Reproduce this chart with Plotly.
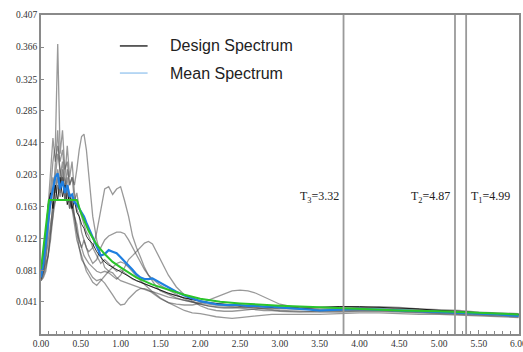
import plotly.graph_objects as go

# Period grid (s) shared by the record spectra and the mean spectrum
periods = [0, 0.03, 0.06, 0.09, 0.12, 0.15, 0.18, 0.21, 0.24, 0.27, 0.30, 0.33, 0.36, 0.39, 0.42, 0.45,
           0.48, 0.51, 0.54, 0.57, 0.60,
           0.65, 0.70, 0.75, 0.80, 0.85, 0.90, 0.95, 1.00, 1.05, 1.10, 1.15, 1.20, 1.25, 1.30, 1.35, 1.40,
           1.45, 1.50,
           1.6, 1.7, 1.8, 1.9, 2.0, 2.1, 2.2, 2.3, 2.4, 2.5, 2.6, 2.7, 2.8, 2.9, 3.0,
           3.25, 3.5, 3.75, 4.0, 4.25, 4.5, 4.75, 5.0, 5.25, 5.5, 5.75, 6.0]

record_a = [0.072, 0.085, 0.11, 0.15, 0.19, 0.22, 0.24, 0.37, 0.23, 0.26, 0.21, 0.22, 0.19, 0.20, 0.17, 0.18,
            0.16, 0.15, 0.14, 0.13, 0.125,
            0.11, 0.10, 0.09, 0.095, 0.09, 0.085, 0.08, 0.082, 0.078, 0.074, 0.07, 0.068, 0.066, 0.064, 0.062, 0.06,
            0.058, 0.056,
            0.052, 0.049, 0.046, 0.044, 0.042, 0.040, 0.039, 0.038, 0.037, 0.036, 0.036, 0.035, 0.035, 0.034, 0.034,
            0.033, 0.034, 0.035, 0.034, 0.033, 0.032, 0.031, 0.030, 0.028, 0.027, 0.026, 0.025]
record_b = [0.07, 0.08, 0.095, 0.12, 0.14, 0.16, 0.17, 0.19, 0.175, 0.2, 0.185, 0.21, 0.19, 0.2, 0.19, 0.21,
            0.235, 0.252, 0.255, 0.235, 0.2,
            0.15, 0.12, 0.1, 0.085, 0.08, 0.078, 0.072, 0.068, 0.066, 0.064, 0.062, 0.06, 0.058, 0.056, 0.055, 0.054,
            0.052, 0.05,
            0.047, 0.045, 0.043, 0.041, 0.04, 0.038, 0.037, 0.036, 0.035, 0.035, 0.034, 0.034, 0.033, 0.033, 0.032,
            0.032, 0.033, 0.033, 0.032, 0.031, 0.030, 0.029, 0.028, 0.027, 0.026, 0.025, 0.024]
record_c = [0.068, 0.075, 0.085, 0.1, 0.13, 0.15, 0.17, 0.2, 0.18, 0.21, 0.17, 0.19, 0.16, 0.17, 0.15, 0.13,
            0.12, 0.11, 0.12, 0.11, 0.105,
            0.11, 0.13, 0.16, 0.185, 0.188, 0.178, 0.185, 0.188, 0.17, 0.15, 0.125, 0.11, 0.098, 0.085, 0.075, 0.068,
            0.06, 0.055,
            0.05, 0.046, 0.043, 0.04, 0.038, 0.036, 0.034, 0.033, 0.033, 0.034, 0.034, 0.033, 0.032, 0.031, 0.03,
            0.029, 0.028, 0.028, 0.029, 0.029, 0.028, 0.027, 0.026, 0.025, 0.024, 0.023, 0.022]
record_d = [0.07, 0.078, 0.09, 0.1, 0.12, 0.15, 0.2, 0.23, 0.21, 0.19, 0.2, 0.18, 0.17, 0.16, 0.15, 0.14,
            0.12, 0.11, 0.1, 0.095, 0.09,
            0.085, 0.08, 0.078, 0.08, 0.078, 0.074, 0.07, 0.075, 0.085, 0.095, 0.1, 0.105, 0.11, 0.116, 0.118, 0.115,
            0.105, 0.095,
            0.075, 0.06, 0.05, 0.042, 0.036, 0.032, 0.03, 0.029, 0.029, 0.03, 0.031, 0.032, 0.033, 0.033, 0.033,
            0.032, 0.031, 0.032, 0.034, 0.035, 0.034, 0.032, 0.031, 0.03, 0.028, 0.027, 0.026]
record_e = [0.072, 0.09, 0.12, 0.16, 0.2, 0.25, 0.22, 0.24, 0.22, 0.235, 0.2, 0.24, 0.2, 0.22, 0.18, 0.16,
            0.15, 0.13, 0.12, 0.11, 0.1,
            0.09, 0.095, 0.11, 0.12, 0.125, 0.128, 0.13, 0.13, 0.128, 0.12, 0.11, 0.1, 0.09, 0.082, 0.075, 0.07,
            0.066, 0.062,
            0.056, 0.05, 0.045, 0.041, 0.038, 0.036, 0.035, 0.034, 0.034, 0.033, 0.032, 0.031, 0.03, 0.03, 0.029,
            0.028, 0.029, 0.03, 0.031, 0.031, 0.03, 0.029, 0.028, 0.027, 0.026, 0.025, 0.024]
record_f = [0.068, 0.072, 0.08, 0.1, 0.13, 0.17, 0.22, 0.26, 0.2, 0.22, 0.18, 0.2, 0.17, 0.16, 0.14, 0.12,
            0.11, 0.095, 0.09, 0.085, 0.08,
            0.072, 0.068, 0.07, 0.065, 0.058, 0.05, 0.042, 0.037, 0.038, 0.045, 0.05, 0.055, 0.058, 0.058, 0.056,
            0.052, 0.048, 0.045,
            0.04, 0.038, 0.037, 0.037, 0.039, 0.043, 0.048, 0.052, 0.055, 0.056, 0.055, 0.052, 0.047, 0.042, 0.038,
            0.033, 0.03, 0.029, 0.03, 0.03, 0.029, 0.028, 0.027, 0.026, 0.025, 0.024, 0.023]
record_g = [0.07, 0.08, 0.1, 0.13, 0.17, 0.2, 0.18, 0.21, 0.19, 0.2, 0.17, 0.18, 0.16, 0.175, 0.15, 0.13,
            0.11, 0.1, 0.09, 0.08, 0.075,
            0.066, 0.062, 0.068, 0.075, 0.08, 0.085, 0.09, 0.092, 0.09, 0.085, 0.08, 0.074, 0.068, 0.063, 0.058,
            0.054, 0.05, 0.046,
            0.04, 0.035, 0.03, 0.027, 0.026, 0.024, 0.022, 0.021, 0.02, 0.021, 0.022, 0.023, 0.024, 0.025, 0.025,
            0.025, 0.025, 0.026, 0.027, 0.027, 0.026, 0.025, 0.025, 0.024, 0.023, 0.022, 0.021]
record_h = [0.072, 0.1, 0.13, 0.165, 0.18, 0.16, 0.19, 0.17, 0.2, 0.175, 0.19, 0.165, 0.18, 0.16, 0.17, 0.155,
            0.15, 0.14, 0.135, 0.125, 0.12,
            0.115, 0.105, 0.098, 0.092, 0.088, 0.085, 0.082, 0.08, 0.077, 0.074, 0.071, 0.068, 0.066, 0.064, 0.062,
            0.06, 0.058, 0.056,
            0.052, 0.049, 0.046, 0.044, 0.042, 0.04, 0.039, 0.038, 0.037, 0.036, 0.036, 0.035, 0.035, 0.034, 0.034,
            0.033, 0.034, 0.035, 0.035, 0.034, 0.033, 0.032, 0.03, 0.029, 0.027, 0.026, 0.025]

mean_spectrum = [0.072, 0.09, 0.115, 0.145, 0.17, 0.185, 0.2, 0.205, 0.185, 0.195, 0.18, 0.19, 0.175, 0.178,
                 0.168, 0.165, 0.16, 0.155, 0.15, 0.142, 0.135,
                 0.125, 0.112, 0.1, 0.102, 0.107, 0.105, 0.103, 0.098, 0.093, 0.088, 0.082, 0.076, 0.072, 0.07,
                 0.07, 0.071, 0.068, 0.065,
                 0.06, 0.054, 0.049, 0.045, 0.042, 0.04, 0.038, 0.037, 0.037, 0.037, 0.036, 0.036, 0.035, 0.035,
                 0.034,
                 0.032, 0.03, 0.031, 0.032, 0.031, 0.03, 0.029, 0.028, 0.027, 0.026, 0.025, 0.023]

design_periods = [0, 0.1, 0.45, 0.5, 0.6, 0.7, 0.8, 0.9, 1.0, 1.2, 1.4, 1.6, 1.8, 2.0, 2.25, 2.5, 3.0, 3.5,
                  4.0, 4.5, 5.0, 5.5, 6.0]
design_spectrum = [0.083, 0.171, 0.171, 0.155, 0.131, 0.114, 0.102, 0.092, 0.085, 0.072, 0.063, 0.056, 0.050,
                   0.045, 0.041, 0.039, 0.036, 0.034, 0.032, 0.030, 0.029, 0.027, 0.025]

period_lines = [3.8, 5.2, 5.34]
period_labels = ["T<sub>3</sub>=3.32", "T<sub>2</sub>=4.87", "T<sub>1</sub>=4.99"]
label_level = 0.175

legend_names = ["Design Spectrum", "Mean Spectrum"]
legend_colors = ["#222222", "#9cc8f0"]

x_ticks = [0, 0.5, 1.0, 1.5, 2.0, 2.5, 3.0, 3.5, 4.0, 4.5, 5.0, 5.5, 6.0]
y_ticks = [0.041, 0.081, 0.122, 0.163, 0.203, 0.244, 0.285, 0.325, 0.366, 0.407]

fig = go.Figure()

gray_records = [record_a, record_b, record_c, record_d, record_e, record_f, record_g]
for rec in gray_records:
    fig.add_trace(go.Scatter(x=periods, y=rec, mode="lines", showlegend=False,
                             line=dict(color="rgba(70,70,70,0.55)", width=1.3), hoverinfo="skip"))
fig.add_trace(go.Scatter(x=periods, y=record_h, mode="lines", showlegend=False,
                         line=dict(color="rgba(0,0,0,0.8)", width=1.0), hoverinfo="skip"))

fig.add_trace(go.Scatter(x=periods, y=mean_spectrum, mode="lines", showlegend=False,
                         line=dict(color="#1f7fe0", width=2.2)))
fig.add_trace(go.Scatter(x=design_periods, y=design_spectrum, mode="lines", showlegend=False,
                         line=dict(color="#2bc42b", width=2.0)))

for xv in period_lines:
    fig.add_shape(type="line", x0=xv, x1=xv, y0=0, y1=1, xref="x", yref="paper",
                  line=dict(color="#9a9a9a", width=1.8))

label_font = dict(family="Liberation Serif", size=12, color="#222")
fig.add_annotation(x=period_lines[0], y=label_level, text=period_labels[0], showarrow=False,
                   xanchor="right", xshift=-3, font=label_font)
fig.add_annotation(x=period_lines[1], y=label_level, text=period_labels[1], showarrow=False,
                   xanchor="right", xshift=-3, font=label_font)
fig.add_annotation(x=period_lines[2], y=label_level, text=period_labels[2], showarrow=False,
                   xanchor="left", xshift=3, font=label_font)

# Custom legend (line sample + label), placed in paper coordinates
legend_rows = [0.903, 0.818]
for name, color, yrow in zip(legend_names, legend_colors, legend_rows):
    fig.add_shape(type="line", xref="paper", yref="paper", x0=0.165, x1=0.223, y0=yrow, y1=yrow,
                  line=dict(color=color, width=1.4))
    fig.add_annotation(xref="paper", yref="paper", x=0.265, y=yrow, text=name, showarrow=False,
                       xanchor="left", yanchor="middle",
                       font=dict(family="Liberation Sans", size=16, color="#222"))

tick_font = dict(family="Liberation Serif", size=9.5, color="#333")

# last x tick label sits on the window edge (partly cut, as in the reference)
fig.add_annotation(x=x_ticks[-1], xref="x", y=0, yref="paper", yanchor="top", yshift=-3,
                   text=f"{x_ticks[-1]:.2f}", showarrow=False, font=tick_font)

fig.update_layout(
    width=523, height=352,
    margin=dict(l=41, r=2, t=15, b=18),
    paper_bgcolor="white", plot_bgcolor="white",
    showlegend=False,
    xaxis=dict(range=[0, 6.004], tickvals=x_ticks[:-1], ticktext=[f"{v:.2f}" for v in x_ticks[:-1]],
               ticks="inside", ticklen=4, tickcolor="#888", showgrid=False, zeroline=False,
               showline=True, linecolor="#8a8a8a", linewidth=1.5, mirror=True, tickfont=tick_font,
               minor=dict(dtick=0.1, ticks="inside", ticklen=3, tickcolor="#888")),
    yaxis=dict(range=[0, 0.407], tickvals=y_ticks, ticktext=[f"{v:.3f}" for v in y_ticks],
               ticks="inside", ticklen=3, tickcolor="#888", showgrid=False, zeroline=False,
               showline=True, linecolor="#8a8a8a", linewidth=1.5, mirror=True, tickfont=tick_font),
)

fig.write_html("out.html", config={"displayModeBar": False},
               post_script="document.body.style.margin='0';document.body.style.overflow='hidden';")
